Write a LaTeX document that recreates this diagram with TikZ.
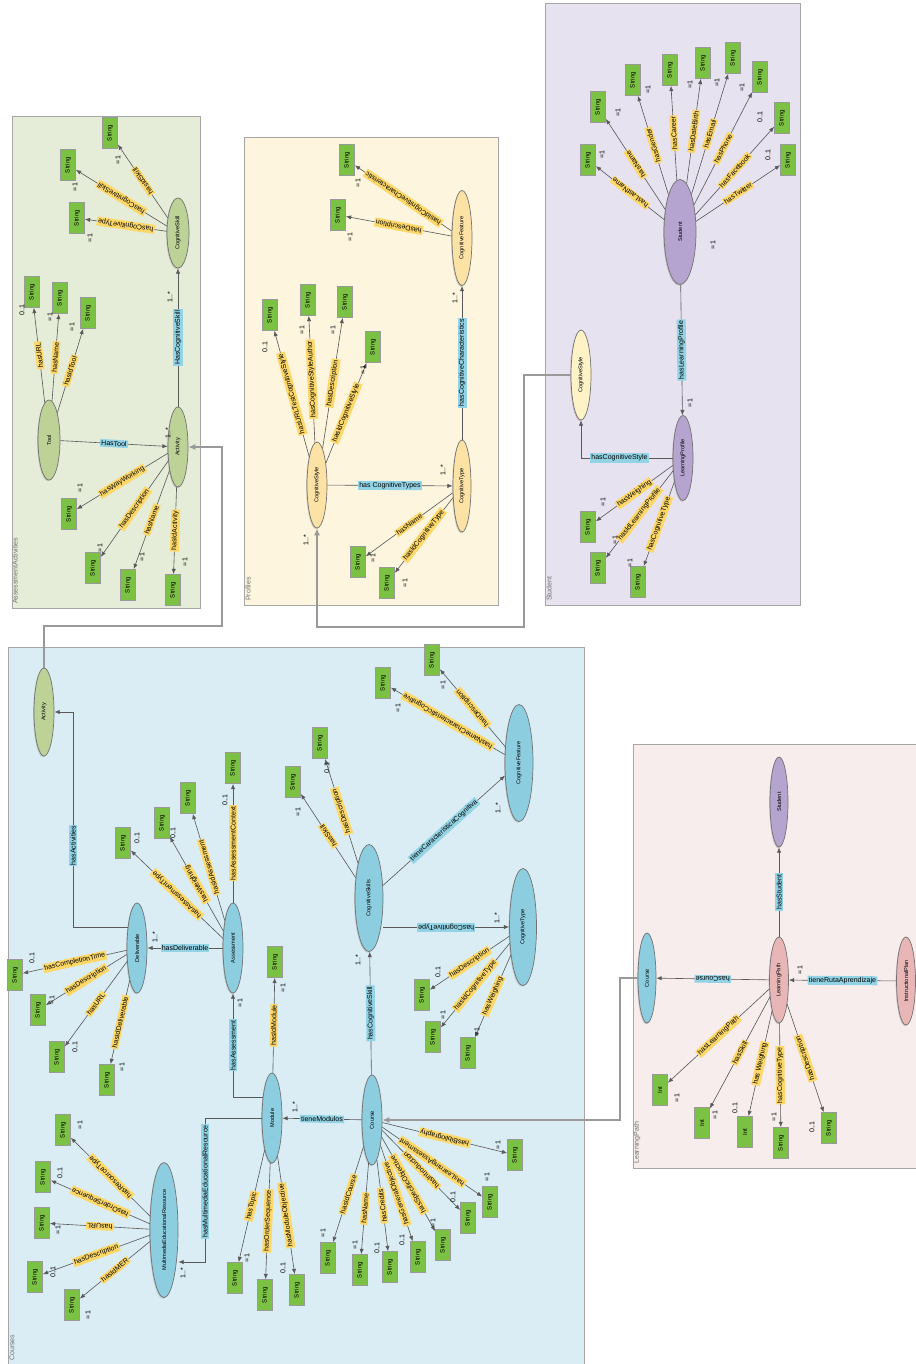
\documentclass[tikz,border=0pt]{standalone}
\usepackage{fontspec}
\setmainfont{Liberation Sans}
\usetikzlibrary{shapes.geometric,arrows.meta,shadows}

\definecolor{panAct}{HTML}{E5ECD8}
\definecolor{panPro}{HTML}{FDF5DE}
\definecolor{panStu}{HTML}{E6E2EF}
\definecolor{panCou}{HTML}{DAEDF4}
\definecolor{panPat}{HTML}{F7EDED}
\definecolor{clsGreen}{HTML}{BDD296}
\definecolor{clsYellow}{HTML}{FCE2A4}
\definecolor{clsCream}{HTML}{FDF3C6}
\definecolor{clsPurple}{HTML}{B5A4CF}
\definecolor{clsBlue}{HTML}{8DCDE0}
\definecolor{clsPink}{HTML}{E8B6B7}
\definecolor{strGreen}{HTML}{7BC143}
\definecolor{labYellow}{HTML}{FDD868}
\definecolor{labBlue}{HTML}{92D3E5}

\tikzset{
  cls/.style={ellipse, draw=black!55, rotate=90, inner sep=0pt,
    minimum width=1.8cm, minimum height=0.4cm,
    font=\fontsize{3.2}{4}\selectfont,
    drop shadow={shadow xshift=-0.5pt, shadow yshift=-0.7pt, opacity=0.35}},
  strbox/.style={rectangle, draw=black!40, fill=strGreen, rotate=90, inner sep=0pt,
    minimum width=0.62cm, minimum height=0.3cm, font=\fontsize{3.5}{4}\selectfont},
  dlab/.style={fill=labYellow, inner sep=0.7pt, font=\fontsize{4}{5}\selectfont},
  olab/.style={fill=labBlue, sloped, inner sep=0.7pt, font=\fontsize{4}{5}\selectfont},
  card/.style={rotate=90, inner sep=0pt, font=\fontsize{4}{5}\selectfont},
  rel/.style={draw=black!65, line width=0.35pt, -{Latex[length=3pt,width=2.4pt]}},
  same/.style={draw=black!40, line width=0.9pt, -{Latex[length=4pt,width=3.5pt]}},
  ptitle/.style={rotate=90, anchor=west, text=black!55, inner sep=0.5pt,
    font=\fontsize{4}{5}\selectfont},
  flip/.style={rotate=180}
}

\begin{document}
\begin{tikzpicture}[x=0.02cm, y=-0.02cm]
\useasboundingbox (0,0) rectangle (915,1364);

% panels
\draw[black!35, fill=panAct] (12,116) rectangle (200,608);
\draw[black!35, fill=panPro] (244,137) rectangle (498,605);
\draw[black!35, fill=panStu] (545,3) rectangle (800,605);
\draw[black!35, fill=panCou] (8,647) rectangle (584,1370);
\draw[black!35, fill=panPat] (633,744) rectangle (920,1168);
\node[ptitle] (tAct) at (15,605) {AssessmentActivities};
\node[ptitle] (tPro) at (248,602) {Profiles};
\node[ptitle] (tStu) at (549,602) {Student};
\node[ptitle] (tCou) at (12,1362) {Courses};
\node[ptitle] (tPat) at (637,1165) {LearningPath};

% AssessmentActivities
\node[cls, fill=clsGreen, minimum width=1.6cm, minimum height=0.44cm] (aaTool) at (49,440) {Tool};
\node[cls, fill=clsGreen, minimum width=1.6cm] (aaActivity) at (178,447) {Activity};
\node[cls, fill=clsGreen, minimum width=1.4cm, minimum height=0.44cm] (aaSkill) at (178,233) {CognitiveSkill};
\draw[rel] (aaTool) -- node[olab] (lHasTool) {HasTool} (aaActivity);
\draw[rel] (aaActivity) -- node[olab] (lHasSkill) {HasCognitiveSkill} (aaSkill);
\node[card] (kTool) at (168,433) {1..*};
\node[card] (kSkill) at (170,297) {1..*};

\foreach \src/\bx/\by/\typ/\lab/\cx/\cy/\card [count=\i] in {
  aaTool/32/292/String/hasURL/22/310/0..1,
  aaTool/60/298/String/hasName/50/317/=1,
  aaTool/88/313/String/hasIdTool/72/327/=1,
  aaActivity/69/514/String/hasWayWorking/80/488/=1,
  aaActivity/93/568/String/hasDescription/100/548/=1,
  aaActivity/128/585/String/hasName/142/557/=1,
  aaActivity/173/590/String/hasIdActivity/185/562/=1,
  aaSkill/77/218/String/hasCognitiveType/90/238/=1,
  aaSkill/68/165/String/hasCognitiveSkill/75/187/=1,
  aaSkill/110/133/String/hasIdSkill/118/160/=1}{
  \node[strbox] (aS\i) at (\bx,\by) {\typ};
  \pgfmathanglebetweenpoints{\pgfpointanchor{\src}{center}}{\pgfpointanchor{aS\i}{center}}
  \pgfmathsetmacro{\labtilt}{mod(\pgfmathresult,180)}
  \draw[rel] (\src) -- node[dlab, rotate=\labtilt] (aL\i) {\lab} (aS\i);
  \node[card] (aC\i) at (\cx,\cy) {\card};
}

% Profiles
\node[cls, fill=clsYellow, minimum width=1.72cm] (pStyle) at (317,485) {CognitiveStyle};
\node[cls, fill=clsYellow, minimum width=1.84cm, minimum height=0.36cm] (pType) at (462,486) {CognitiveType};
\node[cls, fill=clsYellow, minimum width=1.9cm] (pFeature) at (462,238) {CognitiveFeature};
\draw[rel] (pStyle) -- node[olab] (lHasTypes) {has CognitiveTypes} (pType);
\draw[rel] (pType) -- node[olab] (lHasChar) {hasCognitiveCharacteristics} (pFeature);
\node[card] (kTypes) at (443,470) {1..*};
\node[card] (kChar) at (455,298) {1..*};
\node[card] (kStyle) at (306,540) {1..*};

\foreach \src/\bx/\by/\typ/\lab/\cx/\cy/\card [count=\i] in {
  pStyle/270/315/String/hasURLTestCognitiveStyle/265/347/0..1,
  pStyle/308/300/String/hasCognitiveStyleAuthor/302/330/=1,
  pStyle/345/302/String/hasDescription/333/330/=1,
  pStyle/373/347/String/hasIdCognitiveStyle/363/370/=1,
  pType/358/562/String/hasName/373/558/=1,
  pType/387/583/String/hasIdCognitiveType/405/583/=1,
  pFeature/338/215/String/hasDescription/350/237/=1,
  pFeature/347/160/String/hasIdCognitiveCharacteristic/358/183/=1}{
  \node[strbox] (pS\i) at (\bx,\by) {\typ};
  \pgfmathanglebetweenpoints{\pgfpointanchor{\src}{center}}{\pgfpointanchor{pS\i}{center}}
  \pgfmathsetmacro{\labtilt}{mod(\pgfmathresult,180)}
  \draw[rel] (\src) -- node[dlab, rotate=\labtilt] (pL\i) {\lab} (pS\i);
  \node[card] (pC\i) at (\cx,\cy) {\card};
}

% Student
\node[cls, fill=clsPurple, minimum width=2.1cm, minimum height=0.64cm] (sStudent) at (680,232) {Student};
\node[cls, fill=clsPurple, minimum width=1.7cm] (sProfile) at (683,458) {LearningProfile};
\node[cls, fill=clsCream] (sStyle) at (581,375) {CognitiveStyle};
\draw[rel] (sStudent) -- node[olab, flip] (lHasProfile) {hasLearningProfile} (sProfile);
\draw[rel] (sProfile) -| node[olab, pos=0.29] (lHasStyle) {hasCognitiveStyle} (sStyle);
\node[card] (kStudent) at (713,245) {=1};
\node[card] (kProfile) at (690,403) {=1};

\foreach \src/\bx/\by/\typ/\lab/\cx/\cy/\card [count=\i] in {
  sStudent/588/160/String/hasLastName/602/155/=1,
  sStudent/598/107/String/hasName/618/113/=1,
  sStudent/633/80/String/hasGender/648/90/=1,
  sStudent/670/70/String/hasCareer/670/70/,
  sStudent/703/63/String/hasDateBirth/690/85/=1,
  sStudent/733/58/String/hasEmail/717/83/=1,
  sStudent/760/77/String/hasPhone/742/88/=1,
  sStudent/782/118/String/hasFacebook/760/117/0..1,
  sStudent/788/160/String/hasTwitter/768/155/0..1,
  sProfile/588/527/String/hasWeighing/603/502/=1,
  sProfile/598/568/String/hasIdLearningProfile/615/540/=1,
  sProfile/638/582/String/hasCognitiveType/630/563/=1}{
  \node[strbox] (sS\i) at (\bx,\by) {\typ};
  \pgfmathanglebetweenpoints{\pgfpointanchor{\src}{center}}{\pgfpointanchor{sS\i}{center}}
  \pgfmathsetmacro{\labtilt}{mod(\pgfmathresult,180)}
  \draw[rel] (\src) -- node[dlab, rotate=\labtilt] (sL\i) {\lab} (sS\i);
  \node[card] (sC\i) at (\cx,\cy) {\card};
}

% Courses
\node[cls, fill=clsGreen, minimum width=1.76cm] (cActivity) at (44,712) {Activity};
\node[cls, fill=clsBlue] (cDeliverable) at (137,948) {Deliverable};
\node[cls, fill=clsBlue] (cAssessment) at (233,948) {Assessment};
\node[cls, fill=clsBlue] (cModule) at (272,1118) {Module};
\node[cls, fill=clsBlue, minimum width=2.7cm, minimum height=0.56cm] (cResource) at (164,1230) {MultimediaEducationalResource};
\node[cls, fill=clsBlue] (cCourse) at (372,1120) {Course};
\node[cls, fill=clsBlue, minimum width=2.14cm, minimum height=0.56cm] (cSkills) at (369,898) {CognitiveSkills};
\node[cls, fill=clsBlue, minimum width=2.34cm, minimum height=0.54cm] (cType) at (523,927) {CognitiveType};
\node[cls, fill=clsBlue, minimum width=2.34cm, minimum height=0.56cm] (cFeature) at (519,763) {CognitiveFeature};
\coordinate (bendM) at (205,1262);
\coordinate (bendD) at (73,712);
\draw[rel] (cCourse) -- node[olab] (lModulos) {tieneModulos} (cModule);
\draw[rel] (cCourse) -- node[olab, flip] (lHasCSkill) {hasCognitiveSkill} (cSkills);
\draw[rel] (cSkills.south |- cType) -- node[olab, flip] (lHasCType) {hasCognitiveType} (cType);
\draw[rel] (cSkills) -- node[olab] (lCarac) {tieneCaracteristicaCognitiva} (cFeature);
\draw[rel] (cModule.24) -| node[olab, pos=0.75] (lHasAss) {hasAssessment} (cAssessment);
\draw[rel] (cModule) -| node[olab, pos=0.72, flip] (lHasRes) {hasMultimediaEducationalResource} (bendM) -- (cResource.south |- bendM);
\draw[rel] (cAssessment) -- node[olab] (lHasDel) {hasDeliverable} (cDeliverable);
\draw[rel] (cDeliverable.24) -| node[olab, pos=0.69] (lHasAct) {hasActivities} (bendD) -- (cActivity);
\node[card] (kModulos) at (295,1107) {1..*};
\node[card] (kCSkill) at (358,960) {1..*};
\node[card] (kCType) at (497,918) {1..*};
\node[card] (kCarac) at (498,808) {1..*};
\node[card] (kAss) at (240,1003) {=1};
\node[card] (kRes) at (183,1273) {1..*};
\node[card] (kDel) at (155,937) {1..*};

\foreach \src/\bx/\by/\typ/\lab/\cx/\cy/\card [count=\i] in {
  cDeliverable/15/975/String/hasCompletionTime/32/958/0..1,
  cDeliverable/38/1010/String/hasDescription/52/1000/=1,
  cDeliverable/57/1057/String/hasURL/75/1047/0..1,
  cDeliverable/107/1080/String/hasIdDeliverable/122/1067/=1,
  cAssessment/123/843/String/hasAssessmentType/137/838/0..1,
  cAssessment/162/823/String/hasWeighing/173/833/0..1,
  cAssessment/188/798/String/hasIdAssessment/188/798/,
  cAssessment/233/768/String/hasAssessmentContext/225/800/0..1,
  cModule/275/962/String/hasIdModule/283/988/=1,
  cModule/235/1278/String/hasTopic/247/1258/=1,
  cModule/265/1295/String/hasOrderSequence/265/1295/,
  cModule/297/1290/String/hasModuleObjective/283/1268/0..1,
  cResource/63/1130/String/hasResourceType/80/1125/=1,
  cResource/43/1177/String/hasOrderSequence/60/1173/0..1,
  cResource/42/1223/String/hasURL/58/1230/=1,
  cResource/35/1277/String/hasDescription/53/1272/0..1,
  cResource/72/1305/String/hasIdMER/88/1315/=1,
  cCourse/328/1258/String/hasIdCourse/323/1233/=1,
  cCourse/360/1270/String/hasName/355/1245/=1,
  cCourse/390/1267/String/hasCredits/377/1248/0..1,
  cCourse/418/1257/String/hasGeneralObjective/402/1240/0..1,
  cCourse/443/1245/String/hasSpecificObjective/433/1223/=1,
  cCourse/468/1218/String/hasIntroduction/453/1197/0..1,
  cCourse/490/1202/String/hasLearningAssessment/487/1177/=1,
  cCourse/515/1155/String/hasBibliography/498/1145/=1,
  cSkills/293/782/String/hasSkill/298/812/=1,
  cSkills/320/743/String/hasDescription/327/768/0..1,
  cFeature/383/683/String/hasNameCharacteristicCognitive/398/708/=1,
  cFeature/432/660/String/hasDescription/443/685/=1,
  cType/422/995/String/hasDescription/438/972/0..1,
  cType/433/1037/String/hasIdCognitiveType/443/1015/=1,
  cType/468/1053/String/hasWeighing/477/1032/=1}{
  \node[strbox] (cS\i) at (\bx,\by) {\typ};
  \pgfmathanglebetweenpoints{\pgfpointanchor{\src}{center}}{\pgfpointanchor{cS\i}{center}}
  \pgfmathsetmacro{\labtilt}{mod(\pgfmathresult,180)}
  \draw[rel] (\src) -- node[dlab, rotate=\labtilt] (cL\i) {\lab} (cS\i);
  \node[card] (cC\i) at (\cx,\cy) {\card};
}

% LearningPath
\node[cls, fill=clsPurple, minimum height=0.36cm] (lStudent) at (779,802) {Student};
\node[cls, fill=clsBlue, minimum height=0.36cm] (lCourse) at (647,978) {Course};
\node[cls, fill=clsPink, minimum width=1.72cm, minimum height=0.38cm] (lPath) at (779,980) {LearningPath};
\node[cls, fill=clsPink, minimum width=1.76cm, minimum height=0.38cm] (lPlan) at (906,981) {InstructionalPlan};
\draw[rel] (lPath) -- node[olab] (lHasStu) {hasStudent} (lStudent);
\draw[rel] (lPath) -- node[olab, flip] (lHasCou) {hasCourse} (lCourse);
\draw[rel] (lPlan) -- node[olab] (lRuta) {tieneRutaAprendizaje} (lPath);
\node[card] (kRuta) at (800,970) {=1};

\foreach \src/\bx/\by/\typ/\lab/\cx/\cy/\card [count=\i] in {
  lPath/660/1090/Int/hasLearningPath/677/1098/=1,
  lPath/702/1123/Int/hasSkill/715/1115/=1,
  lPath/745/1132/Int/has Weighing/735/1108/0..1,
  lPath/781/1143/String/hasCognitiveType/774/1117/=1,
  lPath/829/1128/String/hasDescription/812/1127/0..1}{
  \node[strbox] (lS\i) at (\bx,\by) {\typ};
  \pgfmathanglebetweenpoints{\pgfpointanchor{\src}{center}}{\pgfpointanchor{lS\i}{center}}
  \pgfmathsetmacro{\labtilt}{mod(\pgfmathresult,180)}
  \draw[rel] (\src) -- node[dlab, rotate=\labtilt] (lL\i) {\lab} (lS\i);
  \node[card] (lC\i) at (\cx,\cy) {\card};
}

% links between the panels
\coordinate (bendA) at (222,626);
\coordinate (bendP) at (524,627);
\coordinate (bendL) at (620,1120);
\draw[same] (cActivity) |- (bendA) |- (aaActivity);
\draw[same] (sStyle) -| (bendP) -| (pStyle);
\draw[same] (lCourse) -| (bendL) -- (cCourse);
\end{tikzpicture}
\end{document}
